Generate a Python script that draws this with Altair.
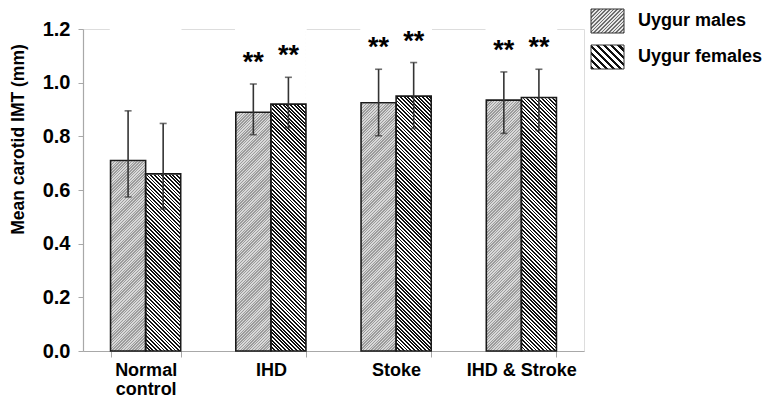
import math
import altair as alt
import pandas as pd

# ---------------- data ----------------
CATEGORIES = ["Normal control", "IHD", "Stoke", "IHD & Stroke"]
SERIES = ["Uygur males", "Uygur females"]
MALE_MEAN = [0.71, 0.89, 0.925, 0.935]
MALE_LOW = [0.574, 0.806, 0.802, 0.811]
MALE_HIGH = [0.895, 0.995, 1.05, 1.04]
FEMALE_MEAN = [0.66, 0.92, 0.95, 0.945]
FEMALE_LOW = [0.529, 0.832, 0.829, 0.821]
FEMALE_HIGH = [0.848, 1.02, 1.075, 1.05]
STARS = ["", "**", "**", "**"]
Y_TICKS = [0.0, 0.2, 0.4, 0.6, 0.8, 1.0, 1.2]

rows = []
for i, c in enumerate(CATEGORIES):
    rows.append({"cat": c, "sex": SERIES[0], "mean": MALE_MEAN[i],
                 "low": MALE_LOW[i], "high": MALE_HIGH[i], "star": STARS[i]})
    rows.append({"cat": c, "sex": SERIES[1], "mean": FEMALE_MEAN[i],
                 "low": FEMALE_LOW[i], "high": FEMALE_HIGH[i], "star": STARS[i]})
df = pd.DataFrame(rows)
legend_df = pd.DataFrame({"sex": SERIES})

# ---------------- layout ----------------
W, H = 501, 322
Y_MAX = Y_TICKS[-1]
N_CAT = len(CATEGORIES)
BAND_FRAC = 0.56          # fraction of a category step covered by the pair of bars
BAR_W = W / N_CAT * BAND_FRAC / 2
FONT = "Liberation Sans"


def hatch(w, h, period, c1, c2, direction, duty=0.5):
    """Diagonal stripe gradient (objectBoundingBox units) for a w x h pixel box."""
    s = (w + h) / (w * w + h * h)
    if direction == "/":
        x1, y1, x2, y2 = 0, 0, s * w, s * h
    else:
        x1, y1, x2, y2 = 0, 1, s * w, 1 - s * h
    n = (w + h) / (math.sqrt(2) * period)
    stops = []
    k = 0
    while k / n < 1:
        a = k / n
        b = min((k + duty) / n, 1)
        c = min((k + 1) / n, 1)
        stops += [alt.GradientStop(offset=a, color=c1),
                  alt.GradientStop(offset=b, color=c1),
                  alt.GradientStop(offset=b, color=c2),
                  alt.GradientStop(offset=c, color=c2)]
        k += 1
    return alt.LinearGradient(gradient="linear", x1=x1, y1=y1, x2=x2, y2=y2, stops=stops)


FILL_BAR = {
    SERIES[0]: hatch(BAR_W, H, 2.0, "#9c9c9c", "#d8d8d8", "/"),
    SERIES[1]: hatch(BAR_W, H, 2.6, "#111111", "#ffffff", "\\"),
}
FILL_LEG = {
    SERIES[0]: hatch(33, 24, 2.6, "#6e6e6e", "#e6e6e6", "/"),
    SERIES[1]: hatch(33, 24, 5.0, "#111111", "#ffffff", "\\"),
}

x_enc = alt.X(
    "cat:N", sort=CATEGORIES,
    scale=alt.Scale(domain=CATEGORIES, paddingInner=1 - BAND_FRAC, paddingOuter=(1 - BAND_FRAC) / 2),
    axis=alt.Axis(
        title=None, tickBand="extent", labelAngle=0,
        labelExpr="datum.label == 'Normal control' ? ['Normal', 'control'] : datum.label",
        labelFont=FONT, labelFontSize=18, labelFontWeight="bold", labelColor="#000000",
        labelPadding=4, labelLineHeight=19.5,
        domainColor="#a8a8a8", tickColor="#a8a8a8", tickSize=6, domainWidth=1.2,
    ),
)
xo_enc = alt.XOffset("sex:N", sort=SERIES,
                     scale=alt.Scale(domain=SERIES, paddingInner=0, paddingOuter=0))
y_scale = alt.Scale(domain=[0, Y_MAX], nice=False, zero=True)
y_axis = alt.Axis(
    values=Y_TICKS, format=".1f", grid=False,
    title="Mean carotid IMT (mm)", titleFont=FONT, titleFontSize=17.5, titleFontWeight="bold",
    titleColor="#000000", titleX=-65, titleY=110, titleBaseline="middle", titleAngle=270,
    titleAlign="center",
    labelFont=FONT, labelFontSize=20, labelFontWeight="bold", labelColor="#000000",
    labelPadding=8, domainColor="#a8a8a8", tickColor="#a8a8a8", tickSize=5, domainWidth=1.2,
)

base = alt.Chart(df)

layers = []
# hatched full-height bars, one layer per series
for s in SERIES:
    layers.append(
        base.transform_filter(alt.datum.sex == s)
        .mark_bar(fill=FILL_BAR[s], strokeWidth=0)
        .encode(x=x_enc, xOffset=xo_enc,
                y=alt.Y(datum=Y_MAX, type="quantitative", scale=y_scale, axis=y_axis),
                y2=alt.Y2(datum=0))
    )
# white cover above each bar's value
layers.append(
    base.mark_bar(fill="white", stroke="white", strokeWidth=1.6)
    .encode(x=x_enc, xOffset=xo_enc, y=alt.Y("mean:Q", scale=y_scale, axis=y_axis),
            y2=alt.Y2(datum=Y_MAX))
)
# bar outlines
layers.append(
    base.mark_bar(fill=None, stroke="#1a1a1a", strokeWidth=1.6)
    .encode(x=x_enc, xOffset=xo_enc, y=alt.Y("mean:Q", scale=y_scale, axis=y_axis))
)
# error bars
layers.append(
    base.mark_rule(color="#333333", strokeWidth=1.6)
    .encode(x=x_enc, xOffset=xo_enc, y=alt.Y("low:Q", scale=y_scale, axis=y_axis), y2="high:Q")
)
for f in ["low", "high"]:
    layers.append(
        base.mark_tick(color="#333333", thickness=1.6, size=7, orient="horizontal")
        .encode(x=x_enc, xOffset=xo_enc, y=alt.Y(f"{f}:Q", scale=y_scale, axis=y_axis))
    )
# significance stars
layers.append(
    base.transform_filter(alt.datum.star != "")
    .mark_text(font=FONT, fontSize=27, fontWeight="bold", color="#000000",
               baseline="alphabetic", align="center", dy=-13)
    .encode(x=x_enc, xOffset=xo_enc, y=alt.Y("high:Q", scale=y_scale, axis=y_axis), text="star:N")
)

# legend (manual, hatched swatches)
LEG_Y = [-20, 16]
for i, s in enumerate(SERIES):
    lb = alt.Chart(legend_df).transform_filter(alt.datum.sex == s)
    layers.append(
        lb.mark_rect(fill=FILL_LEG[s], stroke="#333333", strokeWidth=1)
        .encode(x=alt.value(508), x2=alt.value(541), y=alt.value(LEG_Y[i]), y2=alt.value(LEG_Y[i] + 24))
    )
    layers.append(
        lb.mark_text(font=FONT, fontSize=18, fontWeight="bold", color="#000000",
                     align="left", baseline="middle")
        .encode(x=alt.value(555), y=alt.value(LEG_Y[i] + 12), text="sex:N")
    )

chart = (
    alt.layer(*layers)
    .properties(width=W, height=H,
                autosize=alt.AutoSizeParams(type="none"),
                padding={"left": 75, "top": 21, "right": 181, "bottom": 48})
    .configure_view(stroke=None)
    .configure(background="white")
)

chart.save("out.html", embed_options={"renderer": "svg", "actions": False})
